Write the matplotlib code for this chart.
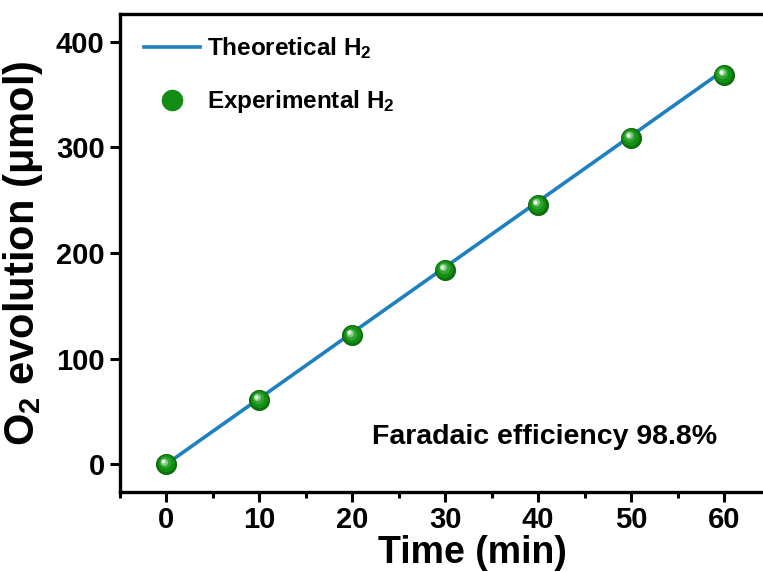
import matplotlib
matplotlib.use("Agg")
import matplotlib.pyplot as plt
from matplotlib.lines import Line2D
import matplotlib.transforms as mtransforms

# ---- data ----
time_min = [0, 10, 20, 30, 40, 50, 60]
theoretical_h2 = [0, 62.2, 124.5, 186.7, 248.9, 311.1, 373.4]
experimental_h2 = [0, 60.7, 122, 184, 245.5, 309, 369]
x_ticks = [0, 10, 20, 30, 40, 50, 60]
y_ticks = [0, 100, 200, 300, 400]
efficiency_text = "Faradaic efficiency 98.8%"

# ---- fonts ----
font = "Liberation Sans"
plt.rcParams["mathtext.fontset"] = "custom"
plt.rcParams["mathtext.rm"] = f"{font}:bold"
plt.rcParams["mathtext.bf"] = f"{font}:bold"
plt.rcParams["mathtext.it"] = f"{font}:bold"

W, H = 763, 572
fig = plt.figure(figsize=(W / 100, H / 100), dpi=100)
# axes box in pixels: left 120, bottom spine 492, top spine 14, right runs past the edge
left_px, right_px, top_px, bot_px = 120, 817, 14, 492
ax = fig.add_axes([left_px / W, 1 - bot_px / H, (right_px - left_px) / W, (bot_px - top_px) / H])

line_color = "#1f80bf"

ax.plot(time_min, theoretical_h2, color=line_color, lw=2.6, zorder=2, solid_capstyle="butt")


def glossy(ax, x, y, ms=14.5, zorder=3):
    """Green spheres with a shaded look and a small highlight."""
    ax.plot(x, y, "o", ms=ms, color="#0b730b", mec="#086008", mew=0.6, zorder=zorder)
    shades = [("#129012", 0.85, -0.6, 0.6), ("#33a233", 0.58, -1.2, 1.2),
              ("#80cc80", 0.36, -1.8, 1.8), ("#eef9ee", 0.2, -2.2, 2.2)]
    for col, frac, dx, dy in shades:
        off = mtransforms.offset_copy(ax.transData, fig=ax.figure, x=dx, y=dy, units="points")
        ax.plot(x, y, "o", ms=ms * frac, color=col, mew=0, transform=off, zorder=zorder)


glossy(ax, time_min, experimental_h2)

ax.set_xlim(-5, 70)
ax.set_ylim(-26.5, 426.5)
ax.set_xticks(x_ticks)
ax.set_xticks([-5, 5, 15, 25, 35, 45, 55, 65], minor=True)
ax.set_yticks(y_ticks)

for s in ax.spines.values():
    s.set_linewidth(2.4)
ax.spines["right"].set_visible(False)

ax.tick_params(axis="both", which="major", direction="out", length=7, width=2.2, pad=4)
ax.tick_params(axis="x", which="major", pad=3)
ax.tick_params(axis="x", which="minor", direction="out", length=4.5, width=2.2)
for lab in ax.get_xticklabels() + ax.get_yticklabels():
    lab.set_fontfamily(font)
    lab.set_fontweight("bold")
    lab.set_fontsize(21)

ax.set_xlabel("Time (min)", fontfamily=font, fontweight="bold", fontsize=27)
ax.xaxis.set_label_coords((472 - left_px) / (right_px - left_px), -0.09)
ax.set_ylabel(r"O$_\mathbf{2}$ evolution ($\mathrm{\mu}$mol)", fontfamily=font,
              fontweight="bold", fontsize=30, labelpad=8)

ax.text(22.1, 25.6, efficiency_text, fontfamily=font, fontweight="bold", fontsize=20.5,
        ha="left", va="center")

# legend: line handle and a ball handle
theo_handle = Line2D([], [], color=line_color, lw=2.6)
exp_handle = Line2D([], [], marker="o", ls="none", ms=14.5, color="#128c12")
leg = ax.legend([theo_handle, exp_handle],
                [r"Theoretical H$_\mathbf{2}$", r"Experimental H$_\mathbf{2}$"],
                loc="upper left", bbox_to_anchor=(0.008, 0.993), frameon=False,
                prop={"family": font, "weight": "bold", "size": 17.5},
                handlelength=2.3, handletextpad=0.3, labelspacing=1.1, borderpad=0.25)

fig.savefig("out.png", dpi=100)
